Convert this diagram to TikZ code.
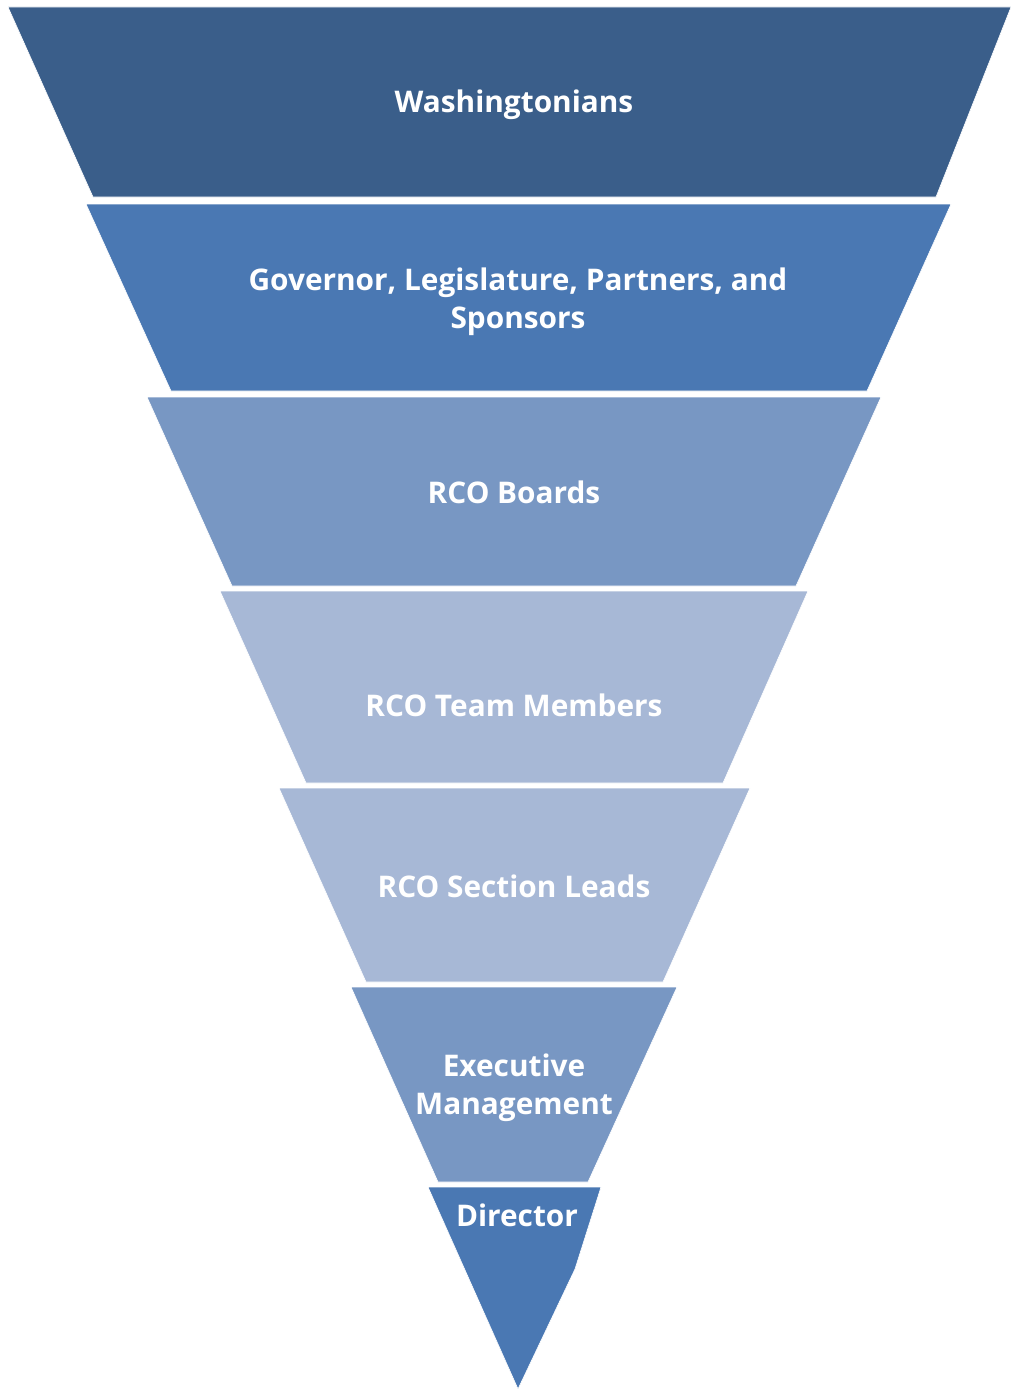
\documentclass[tikz,border=0pt]{standalone}
\usepackage{fontspec}
\newfontfamily\labelfont{Open Sans}
\definecolor{tierA}{HTML}{3A5E8A}
\definecolor{tierB}{HTML}{4A78B3}
\definecolor{tierC}{HTML}{7897C3}
\definecolor{tierD}{HTML}{A7B8D6}
\tikzset{
  band/.style={draw=white, line width=0.6pt},
  lbl/.style={text=white, align=center, inner sep=0pt,
    font=\labelfont\bfseries\fontsize{29.8}{38}\selectfont}
}
\begin{document}
\begin{tikzpicture}[x=1pt, y=-1pt]
\useasboundingbox[fill=white] (0,0) rectangle (1011,1389);

% funnel tiers, widest at the top
\fill[band, fill=tierA] (8,7) -- (1011,7) -- (936,197) -- (93,197) -- cycle;
\fill[band, fill=tierB] (86,204) -- (951,204) -- (867,391) -- (171,391) -- cycle;
\fill[band, fill=tierC] (147,397) -- (881,397) -- (796,586) -- (232,586) -- cycle;
\fill[band, fill=tierD] (220,591) -- (808,591) -- (723,783) -- (306,783) -- cycle;
\fill[band, fill=tierD] (279,788) -- (750,788) -- (663,982) -- (366,982) -- cycle;
\fill[band, fill=tierC] (351,987) -- (677,987) -- (588,1182) -- (438,1182) -- cycle;
\fill[band, fill=tierB] (428,1187) -- (601,1187) -- (575,1269) -- (518,1389) -- cycle;

% tier labels
\node[lbl] (wa)   at (514,105)  {Washingtonians};
\node[lbl] (gov)  at (518,302)  {Governor, Legislature, Partners, and\\Sponsors};
\node[lbl] (brd)  at (514,492)  {RCO Boards};
\node[lbl] (team) at (514,705)  {RCO Team Members};
\node[lbl] (sect) at (514,886)  {RCO Section Leads};
\node[lbl] (exec) at (514,1088) {Executive\\Management};
\node[lbl] (dir)  at (517,1215) {Director};
\end{tikzpicture}
\end{document}
